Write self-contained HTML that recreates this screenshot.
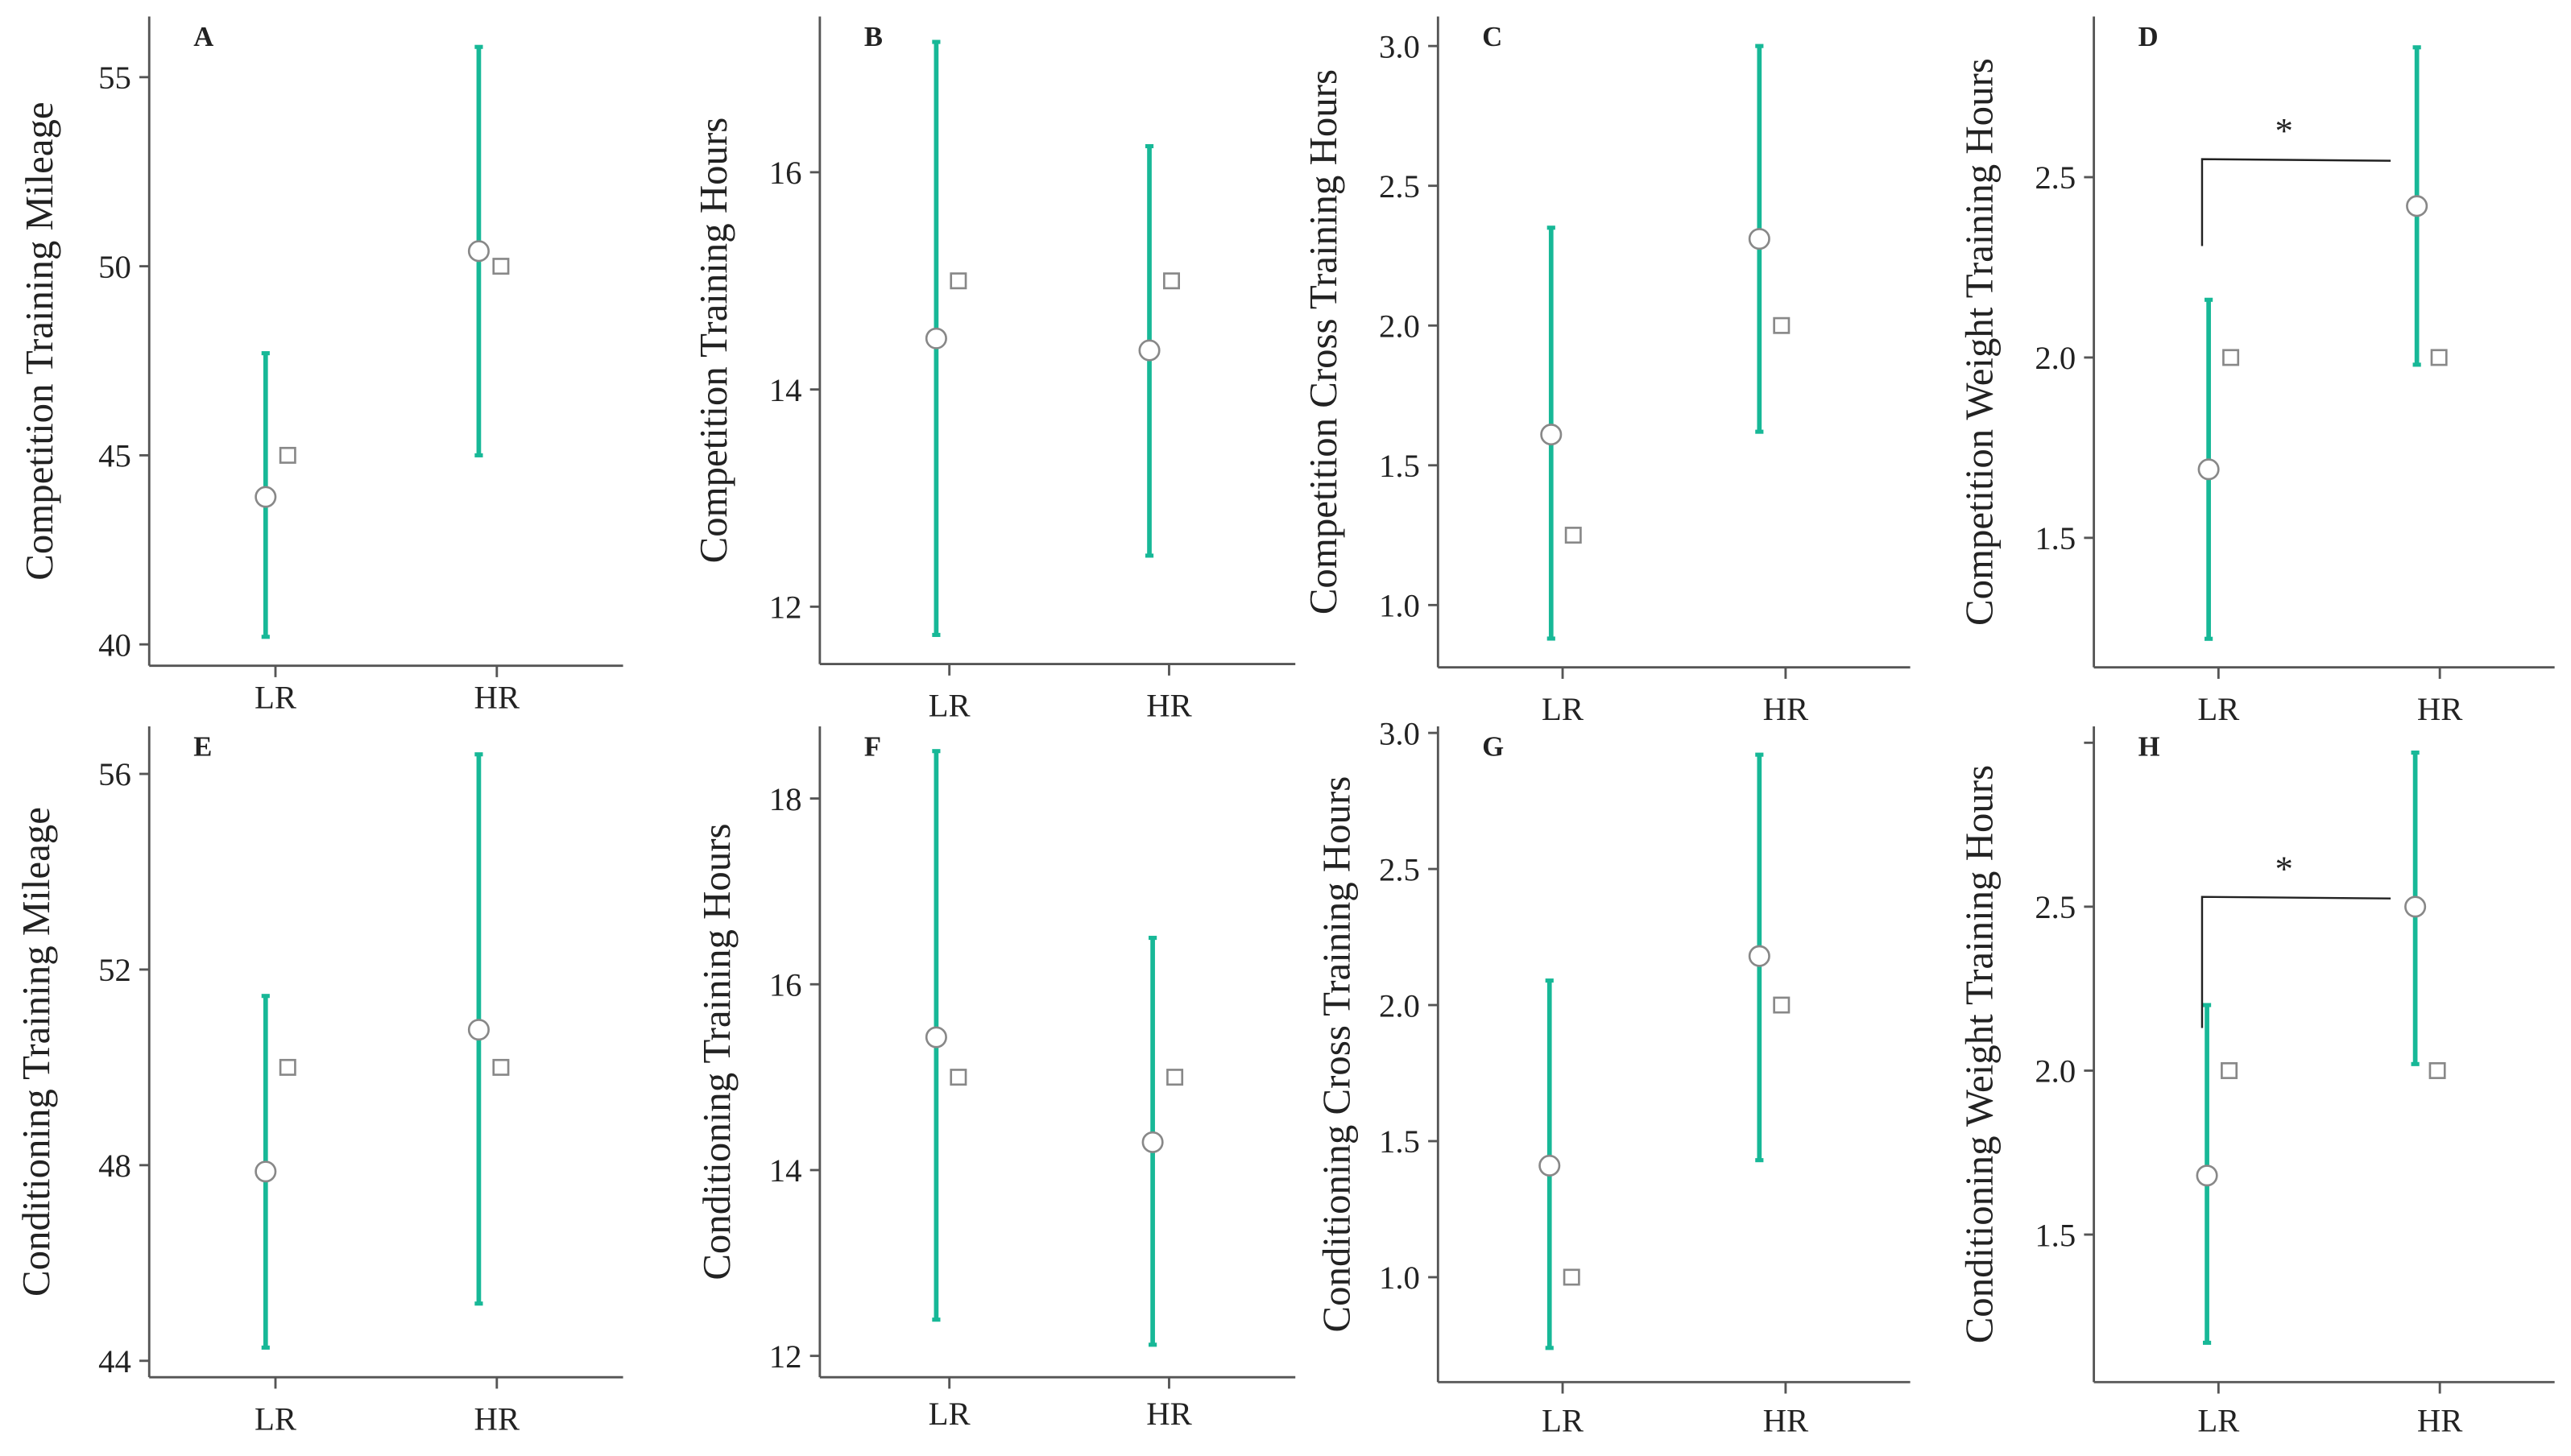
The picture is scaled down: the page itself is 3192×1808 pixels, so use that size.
<!DOCTYPE html>
<html><head><meta charset="utf-8"><style>
html,body{margin:0;padding:0;background:#fff;}
svg{display:block;}
text{font-family:"Liberation Serif",serif;fill:#222;}
</style></head><body>
<svg id="fig" width="3192" height="1808" viewBox="0 0 1568 888" xmlns="http://www.w3.org/2000/svg"></svg>
<script>
// ---- data ----
const groups = ["LR","HR"];
const panelLetters = ["A","B","C","D","E","F","G","H"];
const yTitles = ["Competition Training Mileage","Competition Training Hours","Competition Cross Training Hours","Competition Weight Training Hours",
 "Conditioning Training Mileage","Conditioning Training Hours","Conditioning Cross Training Hours","Conditioning Weight Training Hours"];
const tickValues = [[40,45,50,55],[12,14,16],[1.0,1.5,2.0,2.5,3.0],[1.5,2.0,2.5],[44,48,52,56],[12,14,16,18],[1.0,1.5,2.0,2.5,3.0],[1.5,2.0,2.5,3.0]];
const tickLabels = [["40","45","50","55"],["12","14","16"],["1.0","1.5","2.0","2.5","3.0"],["1.5","2.0","2.5"],["44","48","52","56"],["12","14","16","18"],["1.0","1.5","2.0","2.5","3.0"],["1.5","2.0","2.5",""]];
const lowValues  = [[40.2,45.0],[11.74,12.47],[0.88,1.62],[1.22,1.98],[44.27,45.17],[12.39,12.12],[0.74,1.43],[1.17,2.02]];
const highValues = [[47.7,55.8],[17.2,16.24],[2.35,3.0],[2.16,2.86],[51.46,56.4],[18.51,16.5],[2.09,2.92],[2.2,2.97]];
const meanValues = [[43.9,50.4],[14.47,14.36],[1.61,2.31],[1.69,2.42],[47.87,50.77],[15.43,14.3],[1.41,2.18],[1.68,2.5]];
const medianValues = [[45,50],[15,15],[1.25,2.0],[2.0,2.0],[50,50],[15,15],[1.0,2.0],[2.0,2.0]];
const significant = [false,false,false,true,false,false,false,true];

// ---- layout (display units) ----
const P = [
 {ax:91, top:10, bot:406, right:380, t0:393, t1:47, v0:40, v1:55, lr:168, hr:303, eb:[-6,-11], tx:24, ly:425},
 {ax:500,top:10, bot:405, right:790, t0:370, t1:105,v0:12, v1:16, lr:579, hr:713, eb:[-8,-12], tx:435, ly:430},
 {ax:877,top:10, bot:407, right:1165,t0:369, t1:28, v0:1.0,v1:3.0,lr:953, hr:1089,eb:[-7,-16], tx:807, ly:432},
 {ax:1277,top:10,bot:407, right:1558,t0:328, t1:108,v0:1.5,v1:2.5,lr:1353,hr:1488,eb:[-6,-14], tx:1207,ly:432},
 {ax:91, top:443,bot:840, right:380, t0:830, t1:472,v0:44, v1:56, lr:168, hr:303, eb:[-6,-11], tx:22, ly:865},
 {ax:500,top:443,bot:840, right:790, t0:827, t1:487,v0:12, v1:18, lr:579, hr:713, eb:[-8,-10], tx:437, ly:862},
 {ax:877,top:443,bot:843, right:1165,t0:779, t1:447,v0:1.0,v1:3.0,lr:953, hr:1089,eb:[-8,-16], tx:815, ly:866},
 {ax:1277,top:443,bot:843,right:1558,t0:753, t1:553,v0:1.5,v1:2.5,lr:1353,hr:1488,eb:[-7,-15], tx:1207,ly:866}
];
const NS="http://www.w3.org/2000/svg";
const svg=document.getElementById('fig');
function mk(tag,attrs,parent){const e=document.createElementNS(NS,tag);for(const k in attrs)e.setAttribute(k,attrs[k]);(parent||svg).appendChild(e);return e;}

P.forEach((p,i)=>{
  const g=mk('g',{});
  
  
  const y=v=>p.t0+(v-p.v0)*(p.t1-p.t0)/(p.v1-p.v0);
  const gx=[p.lr,p.hr];
  const ya=mk('line',{x1:p.ax,y1:p.top,x2:p.ax,y2:p.bot,stroke:'#555','stroke-width':1.4},g);
  
  
  const xa=mk('line',{x1:p.ax,y1:p.bot,x2:p.right,y2:p.bot,stroke:'#555','stroke-width':1.4},g);
  
  
  tickValues[i].forEach((v,k)=>{
    const ty=y(v);
    mk('line',{x1:p.ax-6,y1:ty,x2:p.ax,y2:ty,stroke:'#555','stroke-width':1.4},g);
    if(tickLabels[i][k]){
      const t=mk('text',{x:p.ax-11,y:ty+7,'text-anchor':'end','font-size':20},g);
      t.textContent=tickLabels[i][k];
      
      
    }
  });
  groups.forEach((gname,j)=>{
    mk('line',{x1:gx[j],y1:p.bot,x2:gx[j],y2:p.bot+7,stroke:'#555','stroke-width':1.4},g);
    const t=mk('text',{x:gx[j],y:p.ly+7,'text-anchor':'middle','font-size':20},g);
    t.textContent=gname;
    
    
    const bx=gx[j]+p.eb[j];
    const bar=mk('line',{x1:bx,y1:y(lowValues[i][j]),x2:bx,y2:y(highValues[i][j]),stroke:'#17b897','stroke-width':2.8},g);
    
    
    mk('line',{x1:bx-2.5,y1:y(lowValues[i][j]),x2:bx+2.5,y2:y(lowValues[i][j]),stroke:'#17b897','stroke-width':2.5},g);
    mk('line',{x1:bx-2.5,y1:y(highValues[i][j]),x2:bx+2.5,y2:y(highValues[i][j]),stroke:'#17b897','stroke-width':2.5},g);
    const c=mk('circle',{cx:bx,cy:y(meanValues[i][j]),r:6,fill:'#fff',stroke:'#888','stroke-width':1.3},g);
    
    
    const s=mk('rect',{x:bx+13.5-4.5,y:y(medianValues[i][j])-4.5,width:9,height:9,fill:'#fff',stroke:'#888','stroke-width':1.3},g);
    
    
  });
  const L=mk('text',{x:p.ax+27,y:p.top+18,'font-size':17,'font-weight':'bold'},g);
  L.textContent=panelLetters[i];
  
  
  const cy=(p.top+p.bot)/2;
  const T=mk('text',{x:0,y:0,'text-anchor':'middle','font-size':24,transform:`translate(${p.tx+8},${cy}) rotate(-90)`},g);
  T.textContent=yTitles[i];
  
  
  if(significant[i]){
    const yb=i===3?97:547, yl=i===3?150:627;
    const b=mk('polyline',{points:`${p.lr-10},${yl} ${p.lr-10},${yb} ${p.lr+105},${yb+1}`,fill:'none',stroke:'#222','stroke-width':1.2},g);
    
    
    const st=mk('text',{x:p.lr+40,y:yb-10,'text-anchor':'middle','font-size':22},g);
    st.textContent='*';
    
    
  }
});
</script>
</body></html>
